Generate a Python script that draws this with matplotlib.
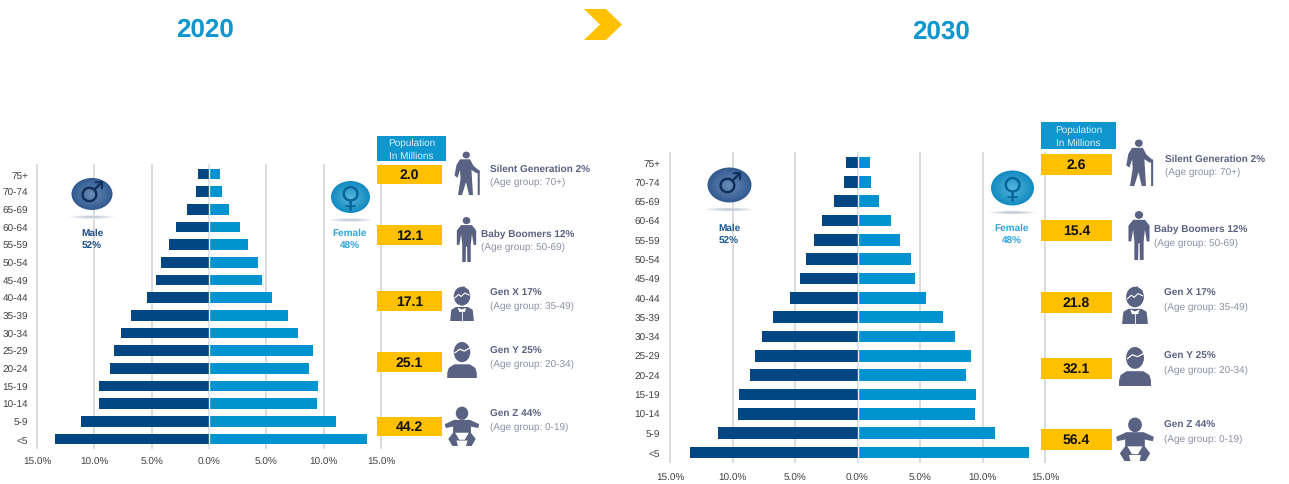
import matplotlib
matplotlib.use('Agg')
import matplotlib.pyplot as plt
from matplotlib.patches import Ellipse, Polygon, Rectangle

plt.rcParams['font.family'] = ['Liberation Sans', 'DejaVu Sans']
plt.rcParams['text.hinting'] = 'no_hinting'
plt.rcParams['text.hinting_factor'] = 1

W, H = 1289, 485
MALE = '#004682'
FEMALE = '#0093D0'
GOLD = '#FFC000'
SLATE = '#596282'
GREY = '#8B90A6'
GRID = '#D9D9D9'

ages = ['<5', '5-9', '10-14', '15-19', '20-24', '25-29', '30-34', '35-39',
        '40-44', '45-49', '50-54', '55-59', '60-64', '65-69', '70-74', '75+']
xticks = [-15, -10, -5, 0, 5, 10, 15]
xtick_labels = ['15.0%', '10.0%', '5.0%', '0.0%', '5.0%', '10.0%', '15.0%']

male_2020 = [13.47, 11.2, 9.62, 9.55, 8.66, 8.26, 7.66, 6.8, 5.38, 4.63, 4.17, 3.5, 2.85, 1.92, 1.1, 0.96]
female_2020 = [13.75, 11.04, 9.4, 9.48, 8.73, 9.05, 7.8, 6.88, 5.49, 4.6, 4.27, 3.38, 2.7, 1.71, 1.1, 1.0]
male_2030 = [13.4, 11.15, 9.57, 9.5, 8.61, 8.22, 7.62, 6.77, 5.38, 4.62, 4.13, 3.47, 2.84, 1.91, 1.06, 0.96]
female_2030 = [13.73, 11.02, 9.4, 9.47, 8.71, 9.04, 7.79, 6.86, 5.48, 4.59, 4.29, 3.37, 2.7, 1.68, 1.09, 1.0]

generations = ['Silent Generation 2%', 'Baby Boomers 12%', 'Gen X 17%', 'Gen Y 25%', 'Gen Z 44%']
age_groups = ['(Age group: 70+)', '(Age group: 50-69)', '(Age group: 35-49)', '(Age group: 20-34)', '(Age group: 0-19)']
pop_2020 = ['2.0', '12.1', '17.1', '25.1', '44.2']
pop_2030 = ['2.6', '15.4', '21.8', '32.1', '56.4']

fig = plt.figure(figsize=(W / 100, H / 100), dpi=100, facecolor='white')


def pyramid(left, right, top, bottom, male, female, pad_y, pad_x):
    ax = fig.add_axes([left / W, 1 - bottom / H, (right - left) / W, (bottom - top) / H])
    pos = range(len(ages))
    ax.barh(pos, [-v for v in male], height=0.6, color=MALE, zorder=3)
    ax.barh(pos, female, height=0.6, color=FEMALE, zorder=3)
    ax.axvline(0, color='#E8F2F8', lw=1, zorder=4)
    ax.set_xlim(-15, 15)
    ax.set_ylim(-0.5, len(ages) - 0.5)
    ax.set_xticks(xticks)
    ax.set_xticklabels(xtick_labels)
    ax.set_yticks(list(pos))
    ax.set_yticklabels(ages)
    ax.tick_params(length=0, labelsize=7.3, labelcolor='#404040')
    ax.tick_params(axis='y', pad=pad_y)
    ax.tick_params(axis='x', pad=pad_x)
    ax.grid(axis='x', color=GRID, lw=1.3, zorder=0)
    for line in ax.get_xgridlines():
        line.set_clip_on(False)
    ax.set_axisbelow(True)
    ax.patch.set_alpha(0)
    for s in ax.spines.values():
        s.set_visible(False)
    return ax


pyramid(37, 381, 166, 449, male_2020, female_2020, 6.5, 6)
pyramid(670, 1045, 154, 463, male_2030, female_2030, 7, 8)

# overlay in pixel coordinates for everything around the charts
ov = fig.add_axes([0, 0, 1, 1], zorder=10)
ov.set_xlim(0, W)
ov.set_ylim(H, 0)
ov.axis('off')
ov.patch.set_alpha(0)


def oval(x, y, w, h, color=SLATE, z=5):
    ov.add_patch(Ellipse((x, y), w, h, fc=color, ec='none', zorder=z))


def shape(x0, y0, w, h, pts, color=SLATE, z=5):
    ov.add_patch(Polygon([(x0 + u * w, y0 + v * h) for u, v in pts], closed=True, fc=color, ec='none', zorder=z))


def elder(cx, top, bottom):
    h = bottom - top
    w = h * 0.58
    x0 = cx - w / 2
    oval(x0 + w * 0.47, top + h * 0.07, h * 0.17, h * 0.16)
    shape(x0, top, w, h, [(0.22, 0.17), (0.62, 0.17), (0.76, 0.32), (0.96, 0.42), (0.9, 0.5), (0.68, 0.42),
                          (0.7, 0.62), (0.74, 1), (0.58, 1), (0.46, 0.7), (0.3, 1), (0.14, 1), (0.24, 0.62),
                          (0.22, 0.42), (0.12, 0.6), (0, 0.55), (0.08, 0.3)])
    ov.plot([x0 + w * 0.9, x0 + w * 0.97, x0 + w * 0.97], [top + h * 0.47, top + h * 0.44, top + h],
            color=SLATE, lw=1.5, zorder=5, solid_capstyle='butt')


def adult(cx, top, bottom):
    h = bottom - top
    w = h * 0.43
    x0 = cx - w / 2
    oval(cx, top + h * 0.08, h * 0.17, h * 0.16)
    shape(x0, top, w, h, [(0.22, 0.18), (0.78, 0.18), (1, 0.3), (1, 0.62), (0.87, 0.62), (0.78, 0.38),
                          (0.72, 0.62), (0.72, 1), (0.54, 1), (0.53, 0.66), (0.47, 0.66), (0.46, 1),
                          (0.28, 1), (0.28, 0.62), (0.22, 0.38), (0.13, 0.62), (0, 0.62), (0, 0.3)])


def gen_x(cx, top, bottom):
    h = bottom - top
    w = h * 0.68
    x0 = cx - w / 2
    oval(cx, top + h * 0.29, h * 0.47, h * 0.54)
    shape(x0, top, w, h, [(0.24, 0.16), (0.45, 0.07), (0.6, 0), (0.62, 0.06), (0.8, 0.12), (0.78, 0.24), (0.22, 0.28)])
    ov.plot([x0 + w * 0.2, x0 + w * 0.36, x0 + w * 0.46, x0 + w * 0.62, x0 + w * 0.8],
            [top + h * 0.34, top + h * 0.24, top + h * 0.3, top + h * 0.2, top + h * 0.26], color='white', lw=0.8, zorder=6)
    shape(x0, top, w, h, [(0.25, 0.6), (0.75, 0.6), (0.95, 0.68), (1, 1), (0, 1), (0.05, 0.68)])
    shape(x0, top, w, h, [(0.32, 0.62), (0.5, 0.67), (0.68, 0.62), (0.62, 0.74), (0.38, 0.74)], color='white', z=6)
    ov.plot([cx, cx], [top + h * 0.74, bottom], color='white', lw=0.6, zorder=6)


def gen_y(cx, top, bottom):
    h = bottom - top
    w = h * 0.82
    x0 = cx - w / 2
    oval(cx, top + h * 0.28, h * 0.46, h * 0.56)
    ov.plot([x0 + w * 0.26, x0 + w * 0.42, x0 + w * 0.58, x0 + w * 0.76],
            [top + h * 0.3, top + h * 0.2, top + h * 0.25, top + h * 0.17], color='white', lw=0.9, zorder=6)
    shape(x0, top, w, h, [(0.24, 0.62), (0.76, 0.62), (0.95, 0.72), (1, 0.86), (1, 1), (0, 1), (0, 0.86), (0.05, 0.72)])


def baby(cx, top, bottom):
    h = bottom - top
    w = h * 0.88
    x0 = cx - w / 2
    oval(cx, top + h * 0.16, h * 0.32, h * 0.34)
    shape(x0, top, w, h, [(0.27, 0.33), (0.73, 0.33), (1, 0.44), (0.97, 0.54), (0.76, 0.5), (0.76, 0.66),
                          (0.9, 0.82), (0.78, 1), (0.62, 1), (0.66, 0.86), (0.34, 0.86), (0.38, 1), (0.22, 1),
                          (0.1, 0.82), (0.24, 0.66), (0.24, 0.5), (0.03, 0.54), (0, 0.44)])
    shape(x0, top, w, h, [(0.3, 0.66), (0.7, 0.66), (0.58, 0.84), (0.42, 0.84)], color='white', z=6)


icons = [elder, adult, gen_x, gen_y, baby]


def gender(cx, cy, w, h, light, dark, ink, sym):
    # soft shadow under the badge
    for k in range(5):
        oval(cx, cy + h * 0.5 + 7, w * (1.1 - k * 0.18), 3.5 - k * 0.5, color=['#F0F2F5', '#E6E9EE', '#DADFE6', '#CFD6DF', '#C4CDD9'][k], z=5)
    for k in range(10):
        f = 1 - k / 10
        mix = k / 9
        col = tuple((1 - mix) * a + mix * b for a, b in zip(dark, light))
        oval(cx, cy + (1 - f) * h * 0.02, w * f, h * f, color=col, z=6)
    ov.text(cx, cy, sym, ha='center', va='center', fontsize=21, color=ink, family='DejaVu Sans', zorder=7)


def panel(boxes, header, texts, icon_boxes, values):
    hx0, hx1, hy0, hy1 = header
    ov.add_patch(Rectangle((hx0, hy0), hx1 - hx0, hy1 - hy0, fc='#0F96CE', ec='none', zorder=5))
    ov.text((hx0 + hx1) / 2, hy0 + (hy1 - hy0) * 0.27, 'Population', ha='center', va='center', color='#DDF0F9', fontsize=7.5, zorder=6)
    ov.text((hx0 + hx1) / 2, hy0 + (hy1 - hy0) * 0.76, 'In Millions', ha='center', va='center', color='#DDF0F9', fontsize=7.5, zorder=6)
    for i, (x0, x1, y0, y1) in enumerate(boxes):
        ov.add_patch(Rectangle((x0, y0), x1 - x0, y1 - y0, fc=GOLD, ec='none', zorder=5))
        ov.text((x0 + x1) / 2, (y0 + y1) / 2, values[i], ha='center', va='center', fontsize=9.8, fontweight='bold', color='#111111', zorder=6)
        tx, ty1, ty2 = texts[i]
        ov.text(tx, ty1, generations[i], ha='left', va='center', fontsize=7.5, fontweight='bold', color=SLATE, zorder=6)
        ov.text(tx, ty2, age_groups[i], ha='left', va='center', fontsize=7.3, color=GREY, zorder=6)
        cx, top, bottom = icon_boxes[i]
        icons[i](cx, top, bottom)


panel([(377, 442, 166, 185), (377, 442, 226, 246), (377, 442, 292, 312), (377, 442, 353, 373), (377, 442, 418, 437)],
      (377, 446, 137, 162),
      [(490, 169, 182), (481, 234, 247), (490, 293, 306), (490, 351, 364), (490, 414, 427)],
      [(467, 153, 196), (466.5, 218, 263), (462, 287, 322), (462, 343, 379), (462, 408, 447)],
      pop_2020)
panel([(1041, 1112, 155, 176), (1041, 1112, 221, 242), (1041, 1112, 293, 314), (1041, 1112, 359, 380), (1041, 1112, 430, 451)],
      (1041, 1116, 123, 150),
      [(1165, 159, 172), (1154.5, 229, 243), (1164, 293, 307), (1164, 356, 370), (1164, 425, 439)],
      [(1139.6, 141, 187), (1139, 212, 261), (1135, 287, 325), (1135, 348, 387), (1135, 419, 462)],
      pop_2030)

navy_d, navy_l = (0.20, 0.36, 0.57), (0.40, 0.54, 0.71)
blue_d, blue_l = (0.08, 0.55, 0.76), (0.32, 0.70, 0.86)
navy_ink, blue_ink = (0.07, 0.18, 0.36), (0.03, 0.40, 0.60)
gender(92, 195, 41, 32, navy_l, navy_d, navy_ink, '♂')
gender(350.5, 198, 39, 32, blue_l, blue_d, blue_ink, '♀')
gender(729.5, 186, 44, 35, navy_l, navy_d, navy_ink, '♂')
gender(1012.5, 189, 43, 35, blue_l, blue_d, blue_ink, '♀')

for x, y, a, b, c in [(92, 233, 'Male', '52%', '#1F4E87'), (350, 233, 'Female', '48%', '#2BA5DE'),
                      (729, 228, 'Male', '52%', '#1F5A94'), (1012, 228, 'Female', '48%', '#2BA5DE')]:
    ov.text(x, y, a, ha='center', va='center', fontsize=7, fontweight='bold', color=c, zorder=6)
    ov.text(x, y + 13, b, ha='center', va='center', fontsize=7, fontweight='bold', color=c, zorder=6)

ov.text(205, 30.5, '2020', ha='center', va='center', fontsize=19, fontweight='bold', color='#0F96CE')
ov.text(941, 31.5, '2030', ha='center', va='center', fontsize=19, fontweight='bold', color='#0F96CE')
ov.add_patch(Polygon([(584, 10), (606, 10), (622, 25.5), (606, 41), (584, 41), (600, 25.5)], closed=True, fc=GOLD, ec='none'))

fig.savefig('out.png', dpi=100)
